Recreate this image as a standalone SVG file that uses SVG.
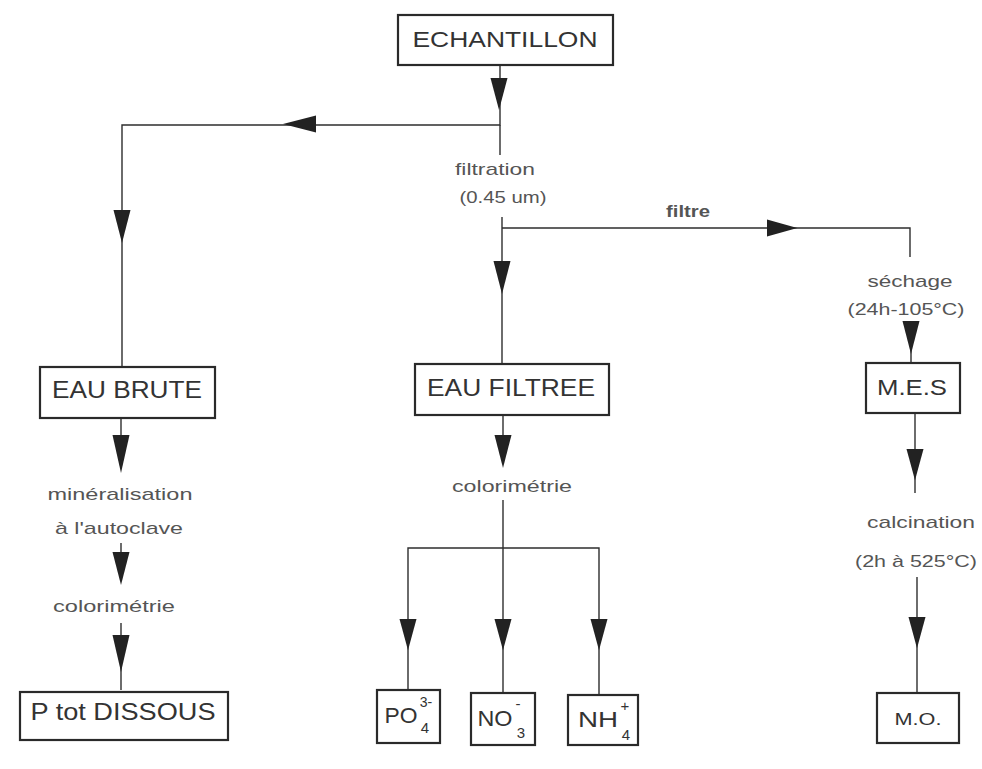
<svg xmlns="http://www.w3.org/2000/svg" xmlns:xlink="http://www.w3.org/1999/xlink" width="982" height="769" viewBox="0 0 982 769">
  <style>
    .box rect { fill: #ffffff; stroke: #2a2a2a; stroke-width: 2.2; }
    .box text { font-family: "Liberation Sans", Arial, sans-serif; fill: #333333; text-anchor: middle; }
    .lbl { font-family: "Liberation Sans", Arial, sans-serif; font-size: 17px; fill: #555555; text-anchor: middle; }
    .conn path { fill: none; stroke: #2e2e2e; stroke-width: 1.4; }
    .ah { fill: #222222; }
  </style>
  <defs>
    <!-- filled arrowhead, base at origin, pointing down -->
    <path id="ah" class="ah" d="M-8.5,0 L8.5,0 L0,33 Z"/>
  </defs>
  <rect width="982" height="769" fill="#ffffff"/>

  <g id="connectors" class="conn">
    <path d="M500,65 V125 H122 V367"/>
    <path d="M500,125 V155"/>
    <path d="M502,217 V364"/>
    <path d="M502,228 H910 V257"/>
    <path d="M911,322 V363"/>
    <path d="M121,418 V435"/>
    <path d="M121,543 V552"/>
    <path d="M121,623 V690"/>
    <path d="M503,415 V435"/>
    <path d="M503,500 V692"/>
    <path d="M408,692 V548 H599 V695"/>
    <path d="M915,413 V493"/>
    <path d="M917,577 V693"/>
    <use xlink:href="#ah" transform="translate(499,78) scale(1,0.97)"/>
    <use xlink:href="#ah" transform="translate(316,124) rotate(90)"/>
    <use xlink:href="#ah" transform="translate(122,210)"/>
    <use xlink:href="#ah" transform="translate(502,261)"/>
    <use xlink:href="#ah" transform="translate(767,228) rotate(-90) scale(1,0.92)"/>
    <use xlink:href="#ah" transform="translate(911,321)"/>
    <use xlink:href="#ah" transform="translate(121,435) scale(1,1.15)"/>
    <use xlink:href="#ah" transform="translate(121,552)"/>
    <use xlink:href="#ah" transform="translate(121,635) scale(1,1.12)"/>
    <use xlink:href="#ah" transform="translate(503,435)"/>
    <use xlink:href="#ah" transform="translate(408,619) scale(1,0.95)"/>
    <use xlink:href="#ah" transform="translate(503,619) scale(1,0.95)"/>
    <use xlink:href="#ah" transform="translate(599,619) scale(1,0.95)"/>
    <use xlink:href="#ah" transform="translate(915,449) scale(1,0.95)"/>
    <use xlink:href="#ah" transform="translate(917,617) scale(1,0.95)"/>
  </g>

  <g id="labels">
    <text class="lbl" x="495" y="175" textLength="80" lengthAdjust="spacingAndGlyphs">filtration</text>
    <text class="lbl" x="503" y="203" textLength="87" lengthAdjust="spacingAndGlyphs">(0.45 um)</text>
    <text class="lbl" x="688" y="217" font-weight="bold" fill="#3a3a3a" textLength="44" lengthAdjust="spacingAndGlyphs">filtre</text>
    <text class="lbl" x="910" y="287" textLength="85" lengthAdjust="spacingAndGlyphs">séchage</text>
    <text class="lbl" x="906" y="315" textLength="117" lengthAdjust="spacingAndGlyphs">(24h-105°C)</text>
    <text class="lbl" x="120" y="500" textLength="145" lengthAdjust="spacingAndGlyphs">minéralisation</text>
    <text class="lbl" x="119" y="534" textLength="128" lengthAdjust="spacingAndGlyphs">à l'autoclave</text>
    <text class="lbl" x="114" y="612" textLength="122" lengthAdjust="spacingAndGlyphs">colorimétrie</text>
    <text class="lbl" x="512" y="492" textLength="120" lengthAdjust="spacingAndGlyphs">colorimétrie</text>
    <text class="lbl" x="921" y="528" textLength="108" lengthAdjust="spacingAndGlyphs">calcination</text>
    <text class="lbl" x="916" y="567" textLength="122" lengthAdjust="spacingAndGlyphs">(2h à 525°C)</text>
  </g>

  <g id="echantillon" class="box">
    <rect x="398" y="15" width="215" height="50"/>
    <text x="505" y="47" font-size="22" textLength="185" lengthAdjust="spacingAndGlyphs">ECHANTILLON</text>
  </g>

  <g id="eau-brute" class="box">
    <rect x="40" y="367" width="175" height="51"/>
    <text x="127" y="398" font-size="24" textLength="150" lengthAdjust="spacingAndGlyphs">EAU BRUTE</text>
  </g>

  <g id="eau-filtree" class="box">
    <rect x="415" y="364" width="194" height="51"/>
    <text x="511" y="396" font-size="24" textLength="168" lengthAdjust="spacingAndGlyphs">EAU FILTREE</text>
  </g>

  <g id="mes" class="box">
    <rect x="866" y="363" width="94" height="50"/>
    <text x="912" y="395" font-size="22" textLength="70" lengthAdjust="spacingAndGlyphs">M.E.S</text>
  </g>

  <g id="p-tot-dissous" class="box">
    <rect x="20" y="692" width="208" height="48"/>
    <text x="123" y="720" font-size="24" textLength="185" lengthAdjust="spacingAndGlyphs">P tot DISSOUS</text>
  </g>

  <g id="po4" class="box">
    <rect x="377" y="690" width="63" height="53"/>
    <text x="401" y="723" font-size="22" textLength="33" lengthAdjust="spacingAndGlyphs">PO</text>
    <text x="426" y="707" font-size="14">3-</text>
    <text x="425" y="733" font-size="15">4</text>
  </g>

  <g id="no3" class="box">
    <rect x="471" y="693" width="64" height="52"/>
    <text x="495" y="726" font-size="22" textLength="35" lengthAdjust="spacingAndGlyphs">NO</text>
    <text x="518" y="709" font-size="15">-</text>
    <text x="521" y="738" font-size="15">3</text>
  </g>

  <g id="nh4" class="box">
    <rect x="568" y="695" width="70" height="50"/>
    <text x="598" y="727" font-size="22" textLength="40" lengthAdjust="spacingAndGlyphs">NH</text>
    <text x="625" y="711" font-size="15">+</text>
    <text x="626" y="740" font-size="15">4</text>
  </g>

  <g id="mo" class="box">
    <rect x="877" y="693" width="82" height="50"/>
    <text x="918" y="725" font-size="17" textLength="47" lengthAdjust="spacingAndGlyphs">M.O.</text>
  </g>
</svg>
